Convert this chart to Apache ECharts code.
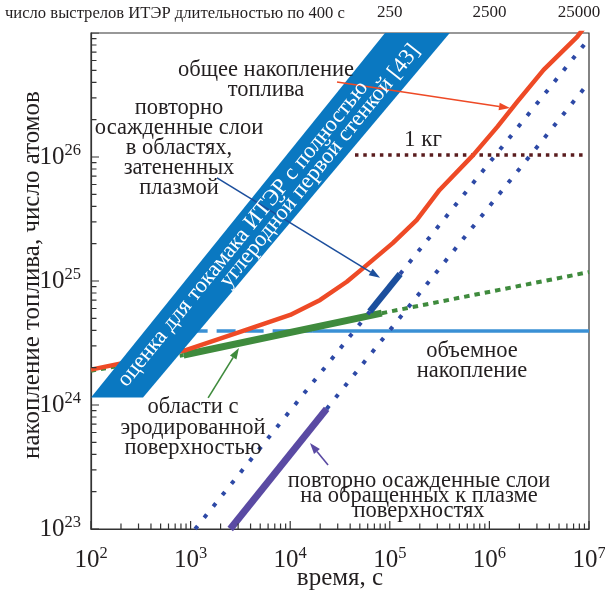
<!DOCTYPE html>
<html>
<head>
<meta charset="utf-8">
<script src="https://cdn.jsdelivr.net/npm/echarts@6.0.0/dist/echarts.min.js"></script>
<style>
html,body{margin:0;padding:0;background:#fff;}
#chart{width:605px;height:590px;}
</style>
</head>
<body>
<div id="chart"></div>
<script>
// Axis ranges: time in seconds, fuel inventory in atoms
const timeRange = [1e2, 1e7];
const atomRange = [1e23, 1e27];
const shotLength = 400; // s per ITER pulse, used for the upper shot-count scale

// Total fuel inventory (s, atoms)
const totalInventory = [
  [1.0e2, 1.93e24], [9.1e2, 2.78e24], [3.2e3, 3.90e24], [1.0e4, 5.32e24],
  [2.0e4, 7.03e24], [3.7e4, 9.86e24], [5.4e4, 1.27e25], [1.07e5, 2.02e25],
  [1.86e5, 3.10e25], [3.16e5, 5.42e25], [6.9e5, 1.04e26], [1.2e6, 1.75e26],
  [1.9e6, 2.78e26], [3.5e6, 5.04e26], [7.6e6, 9.3e26], [8.9e6, 1.1e27]
];

// Estimate for ITER with a full carbon first wall: band outline
const carbonWallBand = [[1.0e2, 1.15e24], [3.33e2, 1.15e24], [4.0e5, 1e27], [8.95e4, 1e27]];

// Bulk retention
const bulkDashed = [[5.0e2, 3.95e24], [1.66e4, 3.95e24]];
const bulkSolid = [[1.66e4, 3.95e24], [1.0e7, 3.95e24]];

// Eroded areas
const erodedLow = [[1.0e2, 1.89e24], [8.5e2, 2.53e24]];
const erodedMain = [[8.5e2, 2.53e24], [8.3e4, 5.5e24]];
const erodedHigh = [[8.3e4, 5.5e24], [1.0e7, 1.18e25]];

// Co-deposits in plasma-shadowed areas
const shadowedLow = [[1.11e3, 1.0e23], [6.3e4, 5.67e24]];
const shadowedMain = [[6.3e4, 5.67e24], [1.27e5, 1.14e25]];
const shadowedHigh = [[1.27e5, 1.14e25], [1.0e7, 9.0e26]];

// Co-deposits on plasma-facing surfaces
const facingMain = [[2.5e3, 1.0e23], [2.32e4, 9.3e23]];
const facingHigh = [[2.32e4, 9.3e23], [1.0e7, 4.0e26]];

// 1 kg reference level
const oneKg = [[4.47e4, 1.04e26], [8.7e6, 1.04e26]];

// Annotation arrows (tail -> head)
const arrowTails = [[2.95e4, 4.03e26], [1.84e3, 6.78e25], [1.5e3, 1.14e24], [2.4e4, 3.28e23]];
const arrowHeads = [[1.61e6, 2.48e26], [7.98e4, 1.06e25], [3.06e3, 2.88e24], [1.58e4, 4.94e23]];

// Tick positions: decades and 2..9 per decade
const xMajorTicks = [1e2, 1e3, 1e4, 1e5, 1e6, 1e7];
const yMajorTicks = [1e23, 1e24, 1e25, 1e26, 1e27];
const tickMantissas = [2, 3, 4, 5, 6, 7, 8, 9];
const xMinorTicks = [];
for (let e = 2; e < 7; e++) tickMantissas.forEach(m => xMinorTicks.push(m * Math.pow(10, e)));
const yMinorTicks = [];
for (let e = 23; e < 27; e++) tickMantissas.forEach(m => yMinorTicks.push(m * Math.pow(10, e)));

const SERIF = '"Liberation Serif","Times New Roman",serif';
const INK = '#231f20';
const COL = {
  total: '#ee4a26',
  band: '#0a78c1',
  bulk: '#3a90d5',
  eroded: '#3f8b3d',
  dots: '#2d49a6',
  shadowed: '#1c4f9d',
  facing: '#5a4aa3',
  kg: '#5a1c1e',
  frame: '#333333'
};
const arrowColors = [COL.total, COL.shadowed, COL.eroded, COL.facing];

// Plot box in pixels
const GRID = { left: 91, right: 16, top: 33, bottom: 61 };
const plotW = 605 - GRID.left - GRID.right;
const plotH = 590 - GRID.top - GRID.bottom;
const xDecades = Math.log10(timeRange[1] / timeRange[0]);
const yDecades = Math.log10(atomRange[1] / atomRange[0]);

function line(data, color, width, dash, z) {
  return {
    type: 'line', data: data, symbol: 'none', showSymbol: false, silent: true,
    animation: false, z: z || 2, clip: true, connectNulls: false,
    lineStyle: { color: color, width: width, type: dash || 'solid', cap: 'butt', join: 'round' }
  };
}

// Inward tick marks drawn as short broken line segments on the log scales
function xTickData(values, lenPx) {
  const f = Math.pow(10, lenPx * yDecades / plotH);
  const out = [];
  values.forEach(v => { out.push([v, atomRange[0]], [v, atomRange[0] * f], [v, '-']); });
  return out;
}
function yTickData(values, lenPx) {
  const f = Math.pow(10, lenPx * xDecades / plotW);
  const out = [];
  values.forEach(v => { out.push([timeRange[0], v], [timeRange[0] * f, v], ['-', v]); });
  return out;
}

const supRich = {
  b: { fontFamily: SERIF, fontSize: 25, color: INK, lineHeight: 30 },
  s: { fontFamily: SERIF, fontSize: 16.5, color: INK, verticalAlign: 'top', lineHeight: 17 }
};
function powLabel(v, skipTop) {
  const e = Math.round(Math.log10(v));
  if (skipTop && e === skipTop) return '';
  return '{b|10}{s|' + e + '}';
}

function textEl(x, y, text, size, lineHeight, opts) {
  opts = opts || {};
  return {
    type: 'text', z: 100, x: x, y: y, rotation: opts.rotation || 0,
    style: {
      text: text, fontFamily: SERIF, fontSize: size, fill: opts.fill || INK,
      align: opts.align || 'center', verticalAlign: 'middle', lineHeight: lineHeight
    }
  };
}

const chart = echarts.init(document.getElementById('chart'));

chart.setOption({
  animation: false,
  backgroundColor: '#ffffff',
  grid: {
    left: GRID.left, right: GRID.right, top: GRID.top, bottom: GRID.bottom,
    containLabel: false, outerBoundsMode: 'none',
    show: true, borderColor: COL.frame, borderWidth: 1.2, backgroundColor: 'transparent'
  },
  xAxis: [
    {
      type: 'log', logBase: 10, min: timeRange[0], max: timeRange[1], position: 'bottom',
      axisLine: { show: true, lineStyle: { color: COL.frame, width: 1.2 } },
      axisTick: { show: false },
      splitLine: { show: false }, minorTick: { show: false },
      axisLabel: { margin: 16, formatter: v => powLabel(v), rich: supRich },
      name: 'время, с', nameLocation: 'middle', nameGap: 37, nameMoveOverlap: false,
      nameTextStyle: { fontFamily: SERIF, fontSize: 25, color: INK }
    },
    {
      type: 'log', logBase: 10, min: timeRange[0], max: timeRange[1], position: 'top',
      axisLine: { show: false }, axisTick: { show: false }, splitLine: { show: false },
      axisLabel: {
        margin: 12, fontFamily: SERIF, fontSize: 17, color: INK,
        formatter: v => {
          const e = Math.round(Math.log10(v));
          if (e < 5) return '';
          const n = Math.round(v / shotLength);
          return e === 7 ? '{r|' + n + '}' : String(n);
        },
        rich: { r: { fontFamily: SERIF, fontSize: 17, color: INK, padding: [0, 20, 0, 0] } }
      }
    }
  ],
  yAxis: [
    {
      type: 'log', logBase: 10, min: atomRange[0], max: atomRange[1], position: 'left',
      axisLine: { show: true, lineStyle: { color: COL.frame, width: 1.2 } },
      axisTick: { show: false },
      splitLine: { show: false }, minorTick: { show: false },
      axisLabel: { margin: 10, formatter: v => powLabel(v, 27), rich: supRich },
      name: 'накопление топлива, число атомов', nameLocation: 'middle', nameGap: 46, nameRotate: 90,
      nameMoveOverlap: false,
      nameTextStyle: { fontFamily: SERIF, fontSize: 25, color: INK, padding: [0, 0, 0, 12] }
    }
  ],
  series: [
    line(xTickData(xMajorTicks, 8), COL.frame, 1.2, 'solid', 9),
    line(xTickData(xMinorTicks, 5.5), COL.frame, 1.2, 'solid', 9),
    line(yTickData(yMajorTicks, 8), COL.frame, 1.2, 'solid', 9),
    line(yTickData(yMinorTicks, 5.5), COL.frame, 1.2, 'solid', 9),
    line(bulkDashed, COL.bulk, 3.5, [19, 9]),
    line(bulkSolid, COL.bulk, 3.5),
    line(erodedLow, COL.eroded, 4, [5, 5]),
    line(erodedMain, COL.eroded, 7),
    line(erodedHigh, COL.eroded, 4, [5.5, 5]),
    line(shadowedLow, COL.dots, 4, [4, 10.5]),
    line(shadowedMain, COL.shadowed, 6.5),
    line(shadowedHigh, COL.dots, 4, [4, 10.5]),
    line(facingMain, COL.facing, 7),
    line(facingHigh, COL.dots, 4, [4, 10.5]),
    line(oneKg, COL.kg, 3.5, [3.5, 4.8]),
    line(totalInventory, COL.total, 4.5, 'solid', 4),
    // carbon-wall estimate band
    {
      type: 'custom', silent: true, animation: false, clip: true, z: 6,
      data: [carbonWallBand[0]],
      renderItem: (params, api) => ({
        type: 'polygon',
        shape: { points: carbonWallBand.map(c => api.coord(c)) },
        style: { fill: COL.band }
      })
    },
    // annotation arrows
    {
      type: 'custom', silent: true, animation: false, clip: false, z: 8,
      data: arrowTails,
      renderItem: (params, api) => {
        const i = params.dataIndex;
        const p1 = api.coord(arrowTails[i]);
        const p2 = api.coord(arrowHeads[i]);
        const dx = p2[0] - p1[0], dy = p2[1] - p1[1];
        const L = Math.hypot(dx, dy), ux = dx / L, uy = dy / L;
        const hl = 11, hw = 3.8;
        const b = [p2[0] - ux * hl, p2[1] - uy * hl];
        const color = arrowColors[i];
        return {
          type: 'group',
          children: [
            { type: 'line', shape: { x1: p1[0], y1: p1[1], x2: b[0], y2: b[1] }, style: { stroke: color, lineWidth: 1.6 } },
            { type: 'polygon', shape: { points: [p2, [b[0] - uy * hw, b[1] + ux * hw], [b[0] + uy * hw, b[1] - ux * hw]] }, style: { fill: color } }
          ]
        };
      }
    }
  ],
  graphic: [
    textEl(5, 14, 'число выстрелов ИТЭР длительностью по 400 с', 16.6, 18, { align: 'left' }),
    textEl(266, 80, 'общее накопление\nтоплива', 22.5, 19.5),
    textEl(179, 148, 'повторно\nосажденные слои\nв областях,\nзатененных\nплазмой', 22.5, 20.2),
    textEl(423, 140, '1 кг', 23, 22),
    textEl(472, 361, 'объемное\nнакопление', 22.5, 20.5),
    textEl(193, 428, 'области с\nэродированной\nповерхностью', 22.5, 20.5),
    textEl(419, 496, 'повторно осажденные слои\nна обращенных к плазме\nповерхностях', 22.5, 15),
    textEl(243, 234, 'оценка для токамака ИТЭР с полностью', 22.5, 22, { rotation: 0.892, fill: '#ffffff' }),
    textEl(320, 166, 'углеродной первой стенкой [43]', 22.5, 22, { rotation: 0.892, fill: '#ffffff' })
  ]
});
</script>
</body>
</html>
